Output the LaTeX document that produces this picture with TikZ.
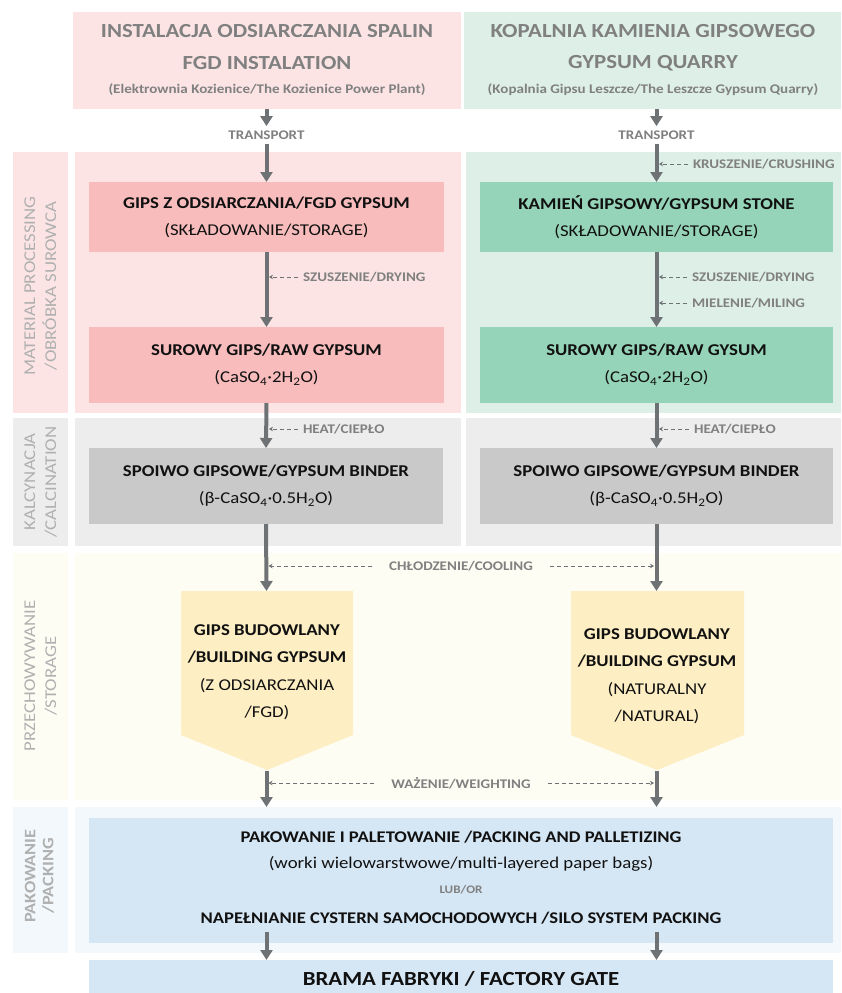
\documentclass[tikz,border=0pt]{standalone}
\usepackage{fontspec}
\setmainfont{Carlito}[FakeStretch=1.14]
\usetikzlibrary{arrows.meta}
\definecolor{pinkp}{HTML}{FCE4E4}
\definecolor{greenp}{HTML}{DDEFE6}
\definecolor{pinkb}{HTML}{F8BCBC}
\definecolor{greenb}{HTML}{95D4B8}
\definecolor{grayp}{HTML}{EDEDED}
\definecolor{grayb}{HTML}{C9C9C9}
\definecolor{creamp}{HTML}{FEFDF4}
\definecolor{pentc}{HTML}{FDEEC3}
\definecolor{bluep}{HTML}{F2F8FC}
\definecolor{blueb}{HTML}{D5E6F4}
\definecolor{arrowc}{HTML}{6E7274}
\definecolor{lblc}{HTML}{808080}
\definecolor{sidec}{HTML}{B0B0B0}
\definecolor{txtc}{HTML}{111111}
\tikzset{
  area/.style={draw=none, inner sep=0pt, outer sep=0pt, anchor=north west},
  boxtxt/.style={area, align=center, text=txtc, font=\fontsize{16.5}{27}\selectfont},
  hdrbig/.style={inner sep=0pt, text=lblc, font=\bfseries\fontsize{20}{24}\selectfont},
  hdrsmall/.style={inner sep=0pt, text=lblc, font=\bfseries\fontsize{13.2}{15}\selectfont},
  lbl/.style={inner xsep=5pt, inner ysep=0pt, outer sep=0pt, text=lblc, font=\bfseries\fontsize{13.2}{15}\selectfont},
  widelbl/.style={lbl, inner xsep=17pt},
  trlbl/.style={inner xsep=0pt, inner ysep=4.5pt, outer sep=0pt, text=lblc, font=\bfseries\fontsize{13.2}{15}\selectfont},
  side/.style={rotate=90, align=center, inner sep=0pt, text=sidec, font=\fontsize{16.5}{21}\selectfont},
  main/.style={draw=arrowc, line width=4pt, -{Triangle[length=10pt,width=12pt]}},
  dsh/.style={draw=arrowc, line width=1pt, dash pattern=on 4pt off 3pt, -{Stealth[length=4pt,width=4.5pt]}, shorten >=2.5pt},
  packtxt/.style={inner sep=0pt, text=txtc, font=\fontsize{16.5}{18}\selectfont},
}
\begin{document}
\begin{tikzpicture}[x=1pt,y=-1pt]
\useasboundingbox (0,0) rectangle (841,993);
% header
\node[area, fill=pinkp, minimum width=388pt, minimum height=97pt] (hdrL) at (73,12) {};
\node[area, fill=greenp, minimum width=377pt, minimum height=97pt] (hdrR) at (464,12) {};
\node[hdrbig] (hL1) at (267,31) {INSTALACJA ODSIARCZANIA SPALIN};
\node[hdrbig] (hL2) at (267,63) {FGD INSTALATION};
\node[hdrsmall] (hL3) at (267,90) {(Elektrownia Kozienice/The Kozienice Power Plant)};
\node[hdrbig] (hR1) at (653,31) {KOPALNIA KAMIENIA GIPSOWEGO};
\node[hdrbig] (hR2) at (653,63) {GYPSUM QUARRY};
\node[hdrsmall] (hR3) at (653,90) {(Kopalnia Gipsu Leszcze/The Leszcze Gypsum Quarry)};
% row panels
\node[area, fill=pinkp, minimum width=55pt, minimum height=261pt] (s1) at (13,152) {};
\node[area, fill=pinkp, minimum width=386pt, minimum height=261pt] (p1L) at (75,152) {};
\node[area, fill=greenp, minimum width=375pt, minimum height=261pt] (p1R) at (466,152) {};
\node[area, fill=grayp, minimum width=55pt, minimum height=128pt] (s2) at (13,418) {};
\node[area, fill=grayp, minimum width=386pt, minimum height=128pt] (p2L) at (75,418) {};
\node[area, fill=grayp, minimum width=375pt, minimum height=128pt] (p2R) at (466,418) {};
\node[area, fill=creamp, minimum width=55pt, minimum height=247pt] (s3) at (13,553) {};
\node[area, fill=creamp, minimum width=766pt, minimum height=247pt] (p3) at (75,553) {};
\node[area, fill=bluep, minimum width=55pt, minimum height=146pt] (s4) at (13,807) {};
\node[area, fill=bluep, minimum width=766pt, minimum height=146pt] (p4) at (75,807) {};
% side labels
\node[side] (t1) at (40.5,286) {MATERIAL PROCESSING\\/OBRÓBKA SUROWCA};
\node[side] (t2) at (40.5,482) {KALCYNACJA\\/CALCINATION};
\node[side] (t3) at (40.5,676) {PRZECHOWYWANIE\\/STORAGE};
\node[side, font=\bfseries\fontsize{16}{18}\selectfont] (t4) at (39.5,876) {PAKOWANIE\\/PACKING};
% boxes
\node[boxtxt, fill=pinkb, minimum width=355pt, minimum height=70pt] (gipsL) at (89,182) {\textbf{GIPS Z ODSIARCZANIA/FGD GYPSUM}\\(SKŁADOWANIE/STORAGE)};
\node[boxtxt, fill=greenb, minimum width=353pt, minimum height=70pt] (gipsR) at (480,182) {\textbf{KAMIEŃ GIPSOWY/GYPSUM STONE}\\(SKŁADOWANIE/STORAGE)};
\node[boxtxt, fill=pinkb, minimum width=355pt, minimum height=76pt] (rawL) at (89,327) {\textbf{SUROWY GIPS/RAW GYPSUM}\\(CaSO\textsubscript{4}·2H\textsubscript{2}O)};
\node[boxtxt, fill=greenb, minimum width=353pt, minimum height=76pt] (rawR) at (480,327) {\textbf{SUROWY GIPS/RAW GYSUM}\\(CaSO\textsubscript{4}·2H\textsubscript{2}O)};
\node[boxtxt, fill=grayb, minimum width=354pt, minimum height=76pt] (binL) at (89,448) {\textbf{SPOIWO GIPSOWE/GYPSUM BINDER}\\(β-CaSO\textsubscript{4}·0.5H\textsubscript{2}O)};
\node[boxtxt, fill=grayb, minimum width=353pt, minimum height=76pt] (binR) at (480,448) {\textbf{SPOIWO GIPSOWE/GYPSUM BINDER}\\(β-CaSO\textsubscript{4}·0.5H\textsubscript{2}O)};
% pentagons
\fill[pentc] (181,591) -- (353,591) -- (353,735) -- (267,770) -- (181,735) -- cycle;
\fill[pentc] (571,591) -- (744,591) -- (744,735) -- (657,770) -- (571,735) -- cycle;
\coordinate (pLtop) at (266.5,591);
\coordinate (pLtip) at (266.5,771);
\coordinate (pRtop) at (656.5,591);
\coordinate (pRtip) at (656.5,771);
\node[align=center, inner sep=0pt, text=txtc, font=\fontsize{16.5}{27.5}\selectfont] (bgL) at (267,672) {\textbf{GIPS BUDOWLANY}\\\textbf{/BUILDING GYPSUM}\\(Z ODSIARCZANIA\\/FGD)};
\node[align=center, inner sep=0pt, text=txtc, font=\fontsize{16.5}{27.5}\selectfont] (bgR) at (657,676) {\textbf{GIPS BUDOWLANY}\\\textbf{/BUILDING GYPSUM}\\(NATURALNY\\/NATURAL)};
% packing
\node[area, fill=blueb, minimum width=744pt, minimum height=125pt] (pack) at (89,818) {};
\node[packtxt, font=\bfseries\fontsize{16.3}{18}\selectfont] (pk1) at (461,837) {PAKOWANIE I PALETOWANIE /PACKING AND PALLETIZING};
\node[packtxt] (pk2) at (461,864) {(worki wielowarstwowe/multi-layered paper bags)};
\node[packtxt, text=lblc, font=\bfseries\fontsize{11.5}{13}\selectfont] (pk3) at (461,890) {LUB/OR};
\node[packtxt, font=\bfseries\fontsize{16.3}{18}\selectfont] (pk4) at (461,918) {NAPEŁNIANIE CYSTERN SAMOCHODOWYCH /SILO SYSTEM PACKING};
\node[area, fill=blueb, minimum width=744pt, minimum height=45pt] (gate) at (89,960) {};
\node[inner sep=0pt, text=txtc, font=\bfseries\fontsize{20}{24}\selectfont] (gt) at (461,979) {BRAMA FABRYKI / FACTORY GATE};
% transport arrows
\node[trlbl] (trL) at (266.5,135) {TRANSPORT};
\node[trlbl] (trR) at (656.5,135) {TRANSPORT};
\draw[main] (hdrL.south -| gipsL.north) -- (trL.north);
\draw[main] (trL.south) -- (gipsL.north);
\draw[main] (hdrR.south -| gipsR.north) -- (trR.north);
\draw[main] (trR.south) -- (gipsR.north);
% main flow arrows
\draw[main] (gipsL.south) -- (rawL.north);
\draw[main] (gipsR.south) -- (rawR.north);
\draw[main] (rawL.south) -- (binL.north);
\draw[main] (rawR.south) -- (binR.north);
\draw[main] (binL.south) -- (pLtop);
\draw[main] (binR.south) -- (pRtop);
\coordinate (eL) at (266.5,807);
\coordinate (eR) at (656.5,807);
\draw[main] (pLtip) -- (eL);
\draw[main] (pRtip) -- (eR);
\coordinate (gL) at (266.5,932);
\coordinate (gR) at (656.5,932);
\draw[main] (gL) -- (gate.north -| gL);
\draw[main] (gR) -- (gate.north -| gR);
% dashed side labels
\node[lbl, anchor=west] (crush) at (688,164) {KRUSZENIE/CRUSHING};
\draw[dsh] (crush.west) -- (crush.west -| gipsR.north);
\node[lbl, anchor=west] (dryL) at (298,277) {SZUSZENIE/DRYING};
\draw[dsh] (dryL.west) -- (dryL.west -| gipsL.south);
\node[lbl, anchor=west] (dryR) at (687,277) {SZUSZENIE/DRYING};
\draw[dsh] (dryR.west) -- (dryR.west -| gipsR.south);
\node[lbl, anchor=west] (millR) at (687,303) {MIELENIE/MILING};
\draw[dsh] (millR.west) -- (millR.west -| gipsR.south);
\node[lbl, anchor=west] (heatL) at (298,429) {HEAT/CIEPŁO};
\draw[dsh] (heatL.west) -- (heatL.west -| rawL.south);
\node[lbl, anchor=west] (heatR) at (689,429) {HEAT/CIEPŁO};
\draw[dsh] (heatR.west) -- (heatR.west -| rawR.south);
\node[widelbl] (cool) at (461,566) {CHŁODZENIE/COOLING};
\draw[dsh] (cool.west) -- (cool.west -| binL.south);
\draw[dsh] (cool.east) -- (cool.east -| binR.south);
\node[widelbl] (wgt) at (461,783) {WAŻENIE/WEIGHTING};
\draw[dsh] (wgt.west) -- (wgt.west -| binL.south);
\draw[dsh] (wgt.east) -- (wgt.east -| binR.south);
\end{tikzpicture}
\end{document}
